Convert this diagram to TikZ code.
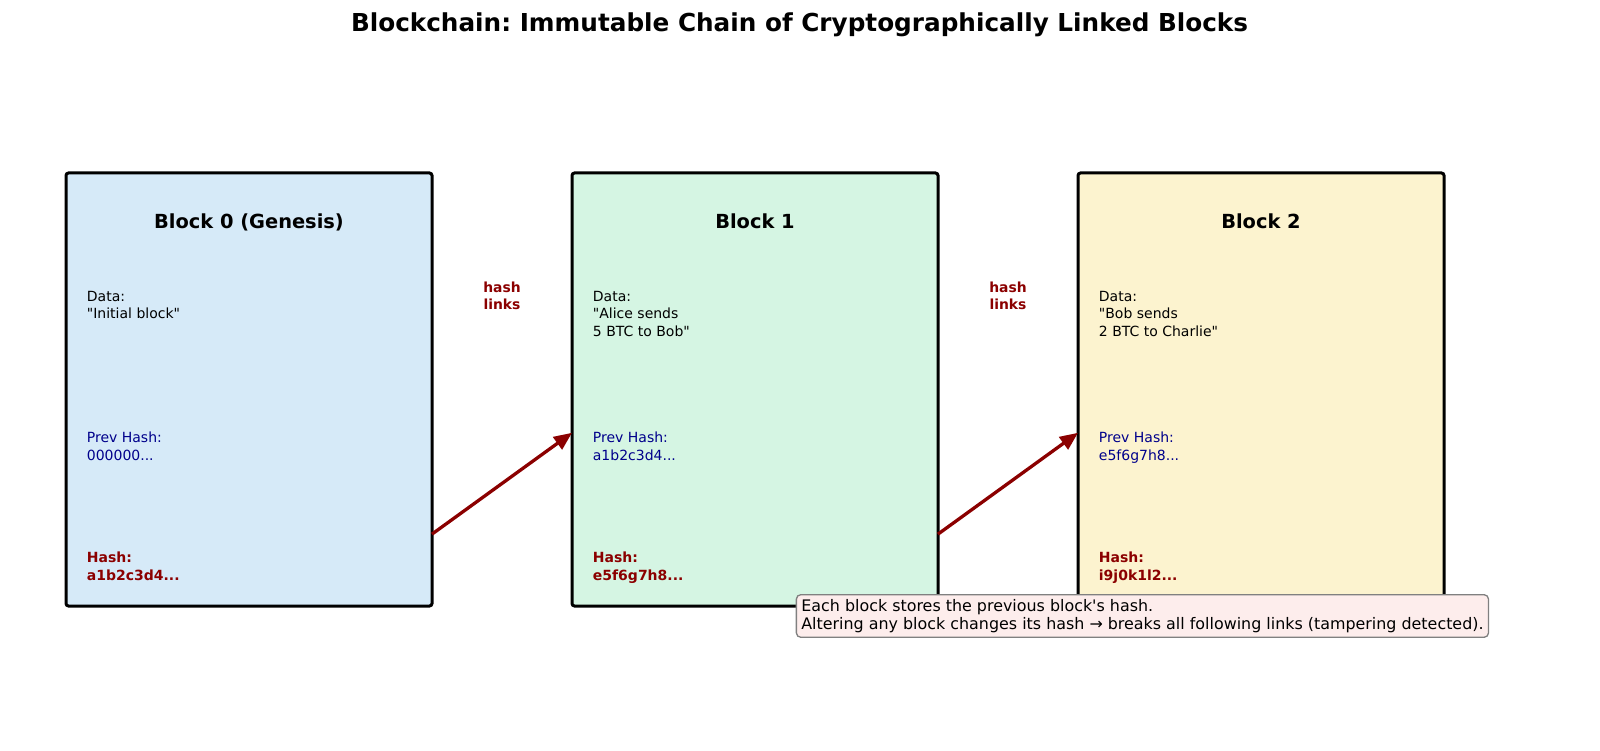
\documentclass[tikz,border=0pt]{standalone}
\usepackage{fontspec}
\setmainfont{DejaVu Sans}[Ligatures=TeXOff]
\usepackage{tikz}
\usetikzlibrary{positioning,calc,arrows.meta}
\frenchspacing

\definecolor{genesis}{HTML}{D6EAF8}
\definecolor{mined}{HTML}{D5F5E3}
\definecolor{latest}{HTML}{FCF3CF}
\definecolor{hashred}{HTML}{8B0000}
\definecolor{prevblue}{HTML}{00008B}
\definecolor{notefill}{HTML}{FDEDEC}

\begin{document}
\begin{tikzpicture}
        [ x = 1pt, y = 1pt
        , block/.style =
          { draw, line width = 3pt, rounded corners = 2.5pt, outer sep = 0pt
          , inner sep = 0pt, minimum width = 366pt, minimum height = 433pt }
        , heading/.style =
          { font = \fontsize{19.4}{23.3}\selectfont\bfseries, anchor = base, inner sep = 0pt }
        , field/.style =
          { font = \fontsize{14}{17.8}\selectfont, align = left, anchor = north west, inner sep = 0pt }
        , prev/.style =
          { prevblue }
        , hash/.style =
          { hashred, font = \fontsize{14}{17.8}\selectfont\bfseries }
        , link/.style =
          { -{Triangle[length=18pt, width=15pt]}, line width = 3.3pt, hashred }
        , linklabel/.style =
          { hashred, font = \fontsize{13.9}{16.7}\selectfont\bfseries, align = center, anchor = north, inner sep = 0pt }
        , note/.style =
          { draw = gray, fill = notefill, line width = 1.3pt, rounded corners = 4.5pt
          , font = \fontsize{15.9}{18.3}\selectfont, align = left, anchor = north west
          , inner xsep = 5pt, inner ysep = 4.5pt }
        ]
        \useasboundingbox (0,0) rectangle (1600,-751);

        \node [font = \fontsize{24.7}{30}\selectfont\bfseries, anchor = base] (title) at (799.5,-31.6)
          {Blockchain: Immutable Chain of Cryptographically Linked Blocks};

        \node [block, fill=genesis] (b0) at (249,-389.5) {};
        \node [block, fill=mined] (b1) [right=140pt of b0] {};
        \node [block, fill=latest] (b2) [right=140pt of b1] {};

        \node [heading] (h0) at ($(b0.north)+(0,-56)$) {Block 0 (Genesis)};
        \node [heading] (h1) at ($(b1.north)+(0,-56)$) {Block 1};
        \node [heading] (h2) at ($(b2.north)+(0,-56)$) {Block 2};

        \node [field] (d0) at ($(b0.north west)+(20.7,-117.7)$) {Data:\\"Initial block"};
        \node [field] (d1) at ($(b1.north west)+(20.7,-117.7)$) {Data:\\"Alice sends\\5 BTC to Bob"};
        \node [field] (d2) at ($(b2.north west)+(20.7,-117.7)$) {Data:\\"Bob sends\\2 BTC to Charlie"};

        \node [field,prev] (p0) at ($(b0.north west)+(20.7,-258.5)$) {Prev Hash:\\000000...};
        \node [field,prev] (p1) at ($(b1.north west)+(20.7,-258.5)$) {Prev Hash:\\a1b2c3d4...};
        \node [field,prev] (p2) at ($(b2.north west)+(20.7,-258.5)$) {Prev Hash:\\e5f6g7h8...};

        \node [field,hash] (k0) at ($(b0.north west)+(20.7,-378.7)$) {Hash:\\a1b2c3d4...};
        \node [field,hash] (k1) at ($(b1.north west)+(20.7,-378.7)$) {Hash:\\e5f6g7h8...};
        \node [field,hash] (k2) at ($(b2.north west)+(20.7,-378.7)$) {Hash:\\i9j0k1l2...};

        \node [linklabel] (l0) at ($(b0.north east)!.5!(b1.north west)+(0,-108.7)$) {hash\\links};
        \node [linklabel] (l1) at ($(b1.north east)!.5!(b2.north west)+(0,-108.7)$) {hash\\links};

        \draw [link] ($(b0.south east)!.166!(b0.north east)$) -- ($(b1.south west)!.4!(b1.north west)$);
        \draw [link] ($(b1.south east)!.166!(b1.north east)$) -- ($(b2.south west)!.4!(b2.north west)$);

        \node [note] (info) at (795.7,-594)
          {Each block stores the previous block's hash.\\Altering any block changes its hash → breaks all following links (tampering detected).};
      \end{tikzpicture}
\end{document}
